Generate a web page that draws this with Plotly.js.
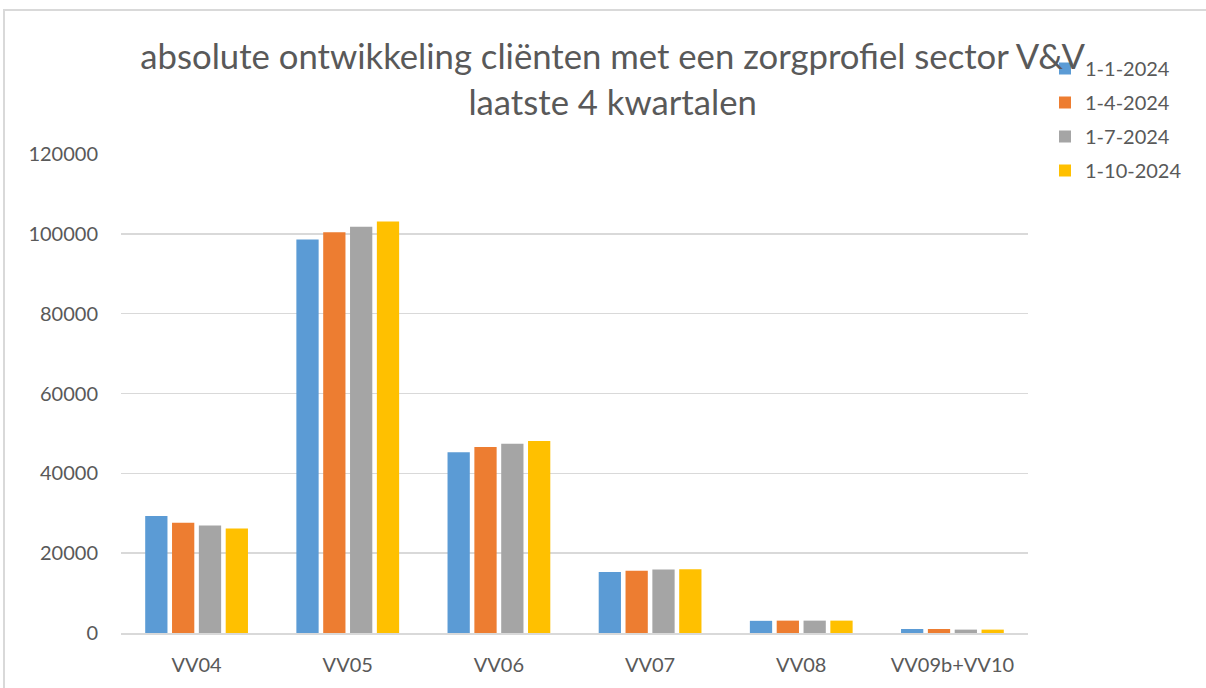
<!DOCTYPE html>
<html>
<head>
<meta charset="utf-8">
<script src="https://cdn.plot.ly/plotly-3.0.1.min.js"></script>
<style>
  html, body { margin: 0; padding: 0; background: #fff; overflow: hidden; }
  #chart { position: absolute; left: 0; top: 0; width: 1206px; height: 688px; }
  #frame { position: absolute; left: 3px; top: 9px; width: 1400px; height: 900px;
           border: 2px solid #d9d9d9; pointer-events: none; box-sizing: border-box; }
</style>
</head>
<body>
<div id="chart"></div>
<div id="frame"></div>
<script>
const categories = ["VV04", "VV05", "VV06", "VV07", "VV08", "VV09b+VV10"];
const seriesNames = ["1-1-2024", "1-4-2024", "1-7-2024", "1-10-2024"];
const q1 = [29300, 98600, 45300, 15300, 3050, 1000];
const q2 = [27600, 100400, 46600, 15600, 3100, 1000];
const q3 = [26900, 101800, 47400, 15900, 3100, 850];
const q4 = [26200, 103100, 48100, 16000, 3100, 850];
const colors = ["#5B9BD5", "#ED7D31", "#A5A5A5", "#FFC000"];
const yTicks = [0, 20000, 40000, 60000, 80000, 100000, 120000];

const values = [q1, q2, q3, q4];
const traces = values.map((v, i) => ({
  type: "bar",
  name: seriesNames[i],
  x: categories,
  y: v,
  marker: { color: colors[i], line: { width: 0 } },
  legendgroup: "g" + i,
  hoverinfo: "x+y+name"
}));

const font = "Lato, 'Open Sans', sans-serif";
const layout = {
  width: 1206,
  height: 688,
  margin: { l: 121, r: 178, t: 154, b: 55, autoexpand: false },
  paper_bgcolor: "rgba(0,0,0,0)",
  plot_bgcolor: "#fff",
  font: { family: font, color: "#595959", size: 20 },
  title: {
    text: "absolute ontwikkeling cliënten met een zorgprofiel sector V&V<br>laatste 4 kwartalen",
    font: { family: font, size: 34.7, color: "#595959" },
    x: 0.508, xref: "container", xanchor: "center",
    y: 0.899, yref: "container", yanchor: "top"
  },
  barmode: "group",
  bargap: 0.29,
  bargroupgap: 0.17,
  xaxis: {
    showgrid: false,
    showline: true,
    linecolor: "#d9d9d9",
    linewidth: 2,
    ticks: "",
    ticklabelstandoff: 13,
    tickfont: { size: 20, color: "#595959" }
  },
  yaxis: {
    range: [0, 120000],
    tickvals: yTicks,
    ticktext: yTicks.map(String),
    showgrid: true,
    gridcolor: "#d9d9d9",
    gridwidth: 1.5,
    zeroline: false,
    showline: false,
    ticks: "",
    ticklabelstandoff: 22,
    tickfont: { size: 20, color: "#595959" }
  },
  legend: {
    xref: "container", yref: "container",
    x: 1045 / 1206, xanchor: "left",
    y: 1 - 49 / 688, yanchor: "top",
    font: { size: 20, color: "#595959" },
    tracegroupgap: 5,
    bgcolor: "rgba(0,0,0,0)"
  },
  showlegend: true
};

Plotly.newPlot("chart", traces, layout, { displayModeBar: false, staticPlot: true });
</script>
</body>
</html>
